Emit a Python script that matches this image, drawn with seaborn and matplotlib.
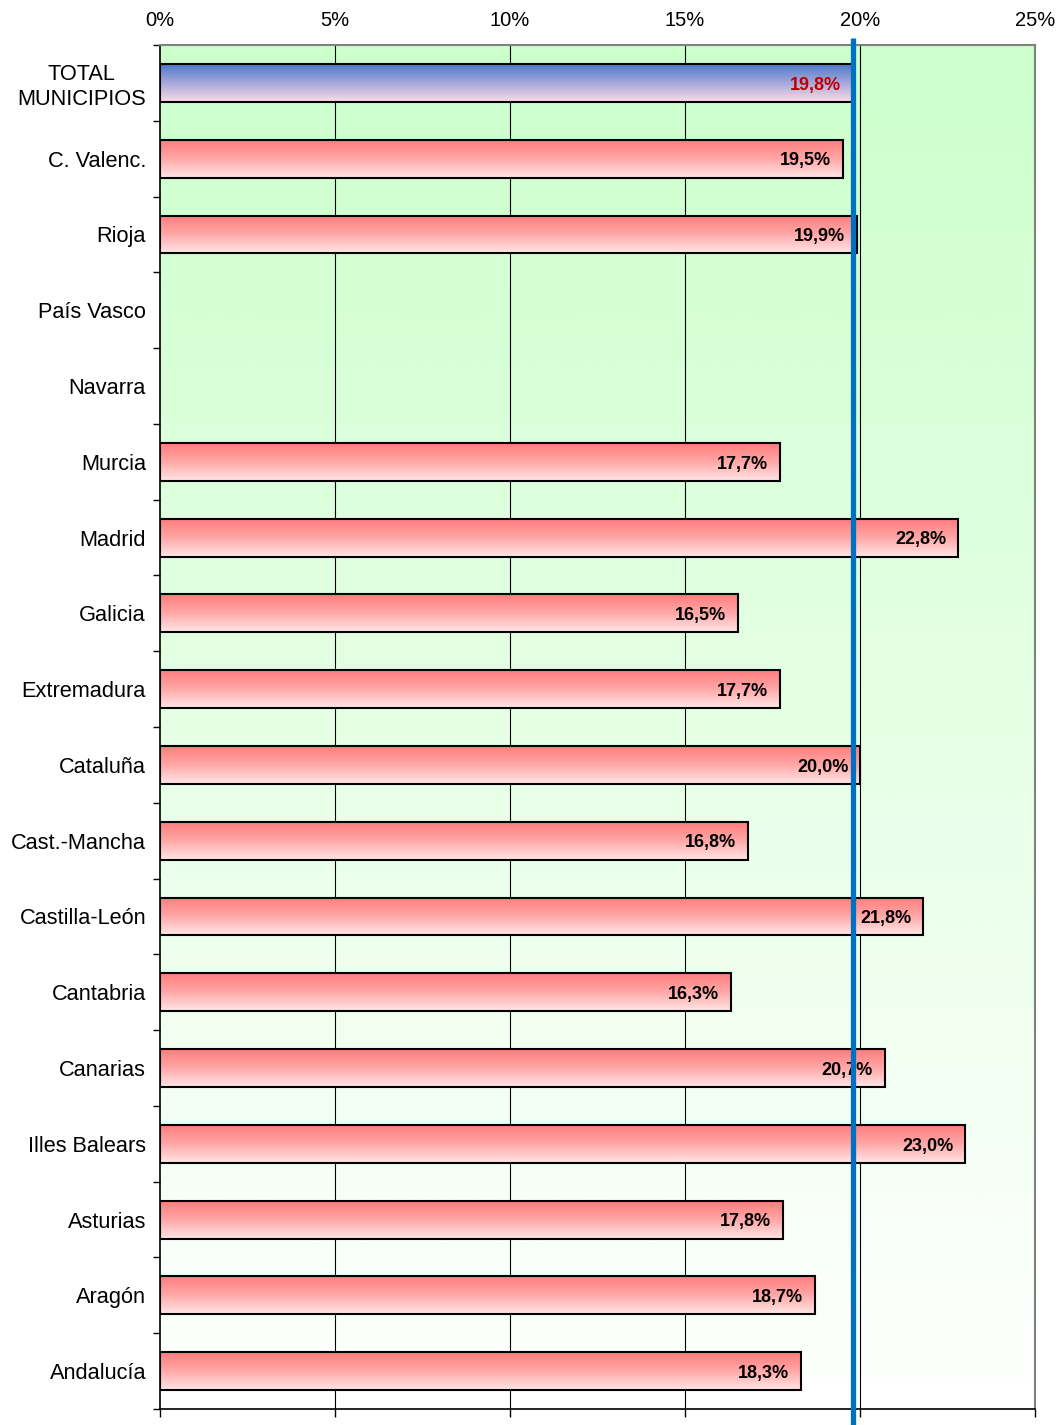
import numpy as np
import pandas as pd
import matplotlib
matplotlib.use("Agg")
import matplotlib.pyplot as plt
import matplotlib.transforms as mtransforms
from matplotlib.colors import LinearSegmentedColormap
import seaborn as sns

# ---------------- data ----------------
categories = ["TOTAL\nMUNICIPIOS", "C. Valenc.", "Rioja", "País Vasco", "Navarra",
              "Murcia", "Madrid", "Galicia", "Extremadura", "Cataluña",
              "Cast.-Mancha", "Castilla-León", "Cantabria", "Canarias",
              "Illes Balears", "Asturias", "Aragón", "Andalucía"]
values = [19.8, 19.5, 19.9, np.nan, np.nan,
          17.7, 22.8, 16.5, 17.7, 20.0,
          16.8, 21.8, 16.3, 20.7,
          23.0, 17.8, 18.7, 18.3]
xticks = [0, 5, 10, 15, 20, 25]
xtick_labels = ["0%", "5%", "10%", "15%", "20%", "25%"]
reference_value = values[0]

# ---------------- style ----------------
sns.set_theme(style="white")
plt.rcParams["font.family"] = ["Liberation Sans", "DejaVu Sans"]

fig = plt.figure(figsize=(10.61, 14.25), dpi=100)
ax = fig.add_axes([0.1508, 0.0112, 0.8247, 0.9572])

df = pd.DataFrame({"region": categories, "value": values})
sns.barplot(data=df, x="value", y="region", order=categories, orient="h",
            width=0.5, color="white", edgecolor="black", linewidth=1.5,
            errorbar=None, ax=ax)

ax.set_xlim(0, 25)
ax.set_ylim(len(categories) - 0.5, -0.5)

# background gradient (light green top -> white bottom)
bg_cmap = LinearSegmentedColormap.from_list("bg", ["#CCFFCC", "#FFFFFF"])
grad = np.linspace(0, 1, 512).reshape(-1, 1)
ax.imshow(grad, cmap=bg_cmap, extent=(0, 25, len(categories) - 0.5, -0.5),
          aspect="auto", origin="upper", zorder=0)

# vertical grid lines
ax.vlines([5, 10, 15, 20], -0.5, len(categories) - 0.5, color="black",
          lw=0.8, zorder=0.5)

# bar gradients
red_cmap = LinearSegmentedColormap.from_list("red", ["#FF7C7C", "#FFA8A8", "#FFE6E6"])
blue_cmap = LinearSegmentedColormap.from_list("blue", ["#4A7CC8", "#A8A8DC", "#FCDDE3"])
for p in list(ax.patches):
    w = p.get_width()
    if not np.isfinite(w) or w <= 0:
        continue
    y0, h = p.get_y(), p.get_height()
    idx = int(round(y0 + h / 2))
    cmap = blue_cmap if idx == 0 else red_cmap
    p.set_facecolor("none")
    p.set_zorder(3)
    im = ax.imshow(grad, cmap=cmap, extent=(p.get_x(), p.get_x() + w, y0 + h, y0),
                   aspect="auto", origin="upper", zorder=2.5)
    im.set_clip_path(p)

ax.set_xlim(0, 25)
ax.set_ylim(len(categories) - 0.5, -0.5)

# value labels
for i, v in enumerate(values):
    if not np.isfinite(v):
        continue
    txt = f"{v:.1f}".replace(".", ",") + "%"
    ax.text(v - 0.33, i + 0.03, txt, ha="right", va="center", fontsize=13,
            fontweight="bold", color="#C00000" if i == 0 else "black",
            family=["Liberation Sans Narrow", "Liberation Sans", "DejaVu Sans"],
            zorder=5)

# reference line
trans = mtransforms.blended_transform_factory(ax.transData, ax.transAxes)
ax.plot([reference_value, reference_value], [1.005, -0.05], transform=trans,
        color="#0070C0", lw=3.8, clip_on=False, zorder=6,
        solid_capstyle="butt")

# axes / ticks
ax.set_xlabel("")
ax.set_ylabel("")
ax.set_xticks(xticks)
ax.set_xticklabels(xtick_labels)
ax.tick_params(axis="x", which="major", bottom=True, top=False,
               labelbottom=False, labeltop=True, direction="out",
               length=6, width=1, color="black", labelsize=14.5, pad=5,
               labelcolor="black")
ax.set_yticks(range(len(categories)))
ax.set_yticklabels(categories)
ax.set_yticks(np.arange(-0.5, len(categories), 1), minor=True)
ax.tick_params(axis="y", which="major", left=False, length=0, pad=10,
               labelsize=15.7, labelcolor="black")
ax.tick_params(axis="y", which="minor", left=True, length=5, width=1,
               direction="out", color="black")
for lab in ax.get_yticklabels():
    lab.set_multialignment("center")
    lab.set_linespacing(1.2)

for side in ["top", "right"]:
    ax.spines[side].set_color("#808080")
    ax.spines[side].set_linewidth(1.5)
for side in ["left", "bottom"]:
    ax.spines[side].set_color("black")
    ax.spines[side].set_linewidth(1.2)
    ax.spines[side].set_visible(True)
ax.spines["top"].set_visible(True)
ax.spines["right"].set_visible(True)

fig.savefig("out.png", dpi=100)
